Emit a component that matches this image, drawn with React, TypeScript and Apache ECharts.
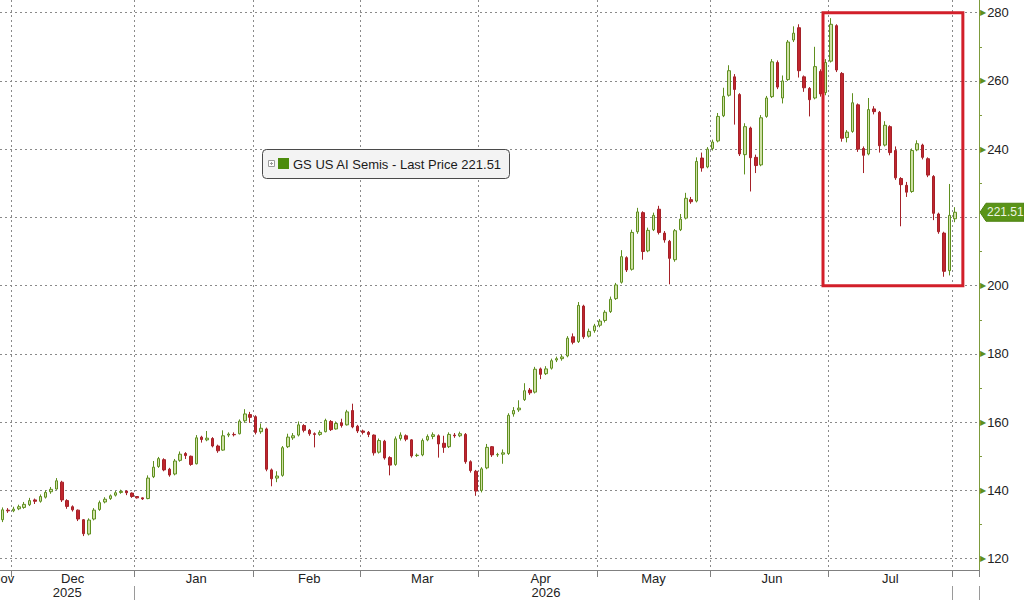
import React, { useEffect, useRef } from "react";
import * as echarts from "echarts";

// [open, close, low, high] per trading day (weekdays)
const novBars = [
  [131.4, 134.3, 130.7, 135.0], [134.2, 134.0, 133.4, 134.8],
];
const decBars = [
  [134.0, 134.5, 133.6, 135.2], [134.6, 135.2, 134.2, 135.8], [135.0, 135.9, 134.6, 136.6],
  [135.8, 137.0, 135.4, 137.8], [137.2, 136.8, 136.0, 137.6], [136.8, 138.2, 136.4, 138.8],
  [138.0, 139.4, 137.6, 140.0], [139.6, 140.3, 139.0, 141.0], [140.4, 142.8, 140.2, 143.6],
  [142.4, 137.2, 136.6, 142.8], [137.0, 135.3, 134.6, 137.4], [135.2, 134.3, 133.8, 135.6],
  [134.2, 131.6, 131.0, 134.4], [131.4, 127.3, 126.6, 131.6], [127.2, 131.3, 126.8, 131.8],
  [131.6, 134.2, 131.2, 134.8], [134.4, 136.4, 134.0, 137.0], [136.6, 137.4, 136.2, 138.0],
  [137.6, 138.4, 137.2, 138.8], [138.6, 139.3, 138.2, 139.8], [139.4, 139.7, 139.0, 140.2],
  [139.8, 139.3, 138.6, 140.0], [139.2, 138.2, 137.8, 139.4],
];
const janBars = [
  [138.2, 137.8, 137.6, 138.2], [137.8, 137.5, 137.2, 137.9], [137.6, 143.6, 137.4, 144.4],
  [144.0, 146.8, 143.6, 148.6], [147.0, 149.3, 146.6, 149.8], [149.0, 146.0, 145.6, 149.4],
  [146.2, 144.5, 144.0, 146.6], [144.8, 148.6, 144.4, 149.2], [148.8, 150.6, 148.4, 151.4],
  [150.8, 150.2, 149.2, 151.2], [150.0, 147.6, 147.2, 150.2], [147.8, 155.4, 147.6, 156.2],
  [155.6, 154.9, 154.0, 156.0], [154.8, 155.3, 154.4, 157.4], [155.2, 153.0, 152.6, 155.6],
  [153.0, 151.6, 151.0, 153.4], [151.8, 156.0, 151.6, 157.6], [156.2, 156.5, 155.6, 157.0],
  [156.4, 156.3, 155.8, 157.0], [156.6, 160.3, 156.4, 160.8], [160.4, 162.4, 159.8, 163.8],
  [162.2, 161.4, 159.8, 163.0],
];
const febBars = [
  [161.6, 157.0, 156.4, 162.0], [157.2, 158.2, 156.6, 159.6], [158.0, 146.2, 145.6, 158.4],
  [146.0, 143.4, 141.2, 146.4], [143.6, 144.2, 142.4, 145.6], [144.4, 152.5, 144.0, 153.0],
  [152.8, 155.6, 152.4, 156.6], [155.4, 156.0, 154.8, 156.8], [156.2, 159.2, 155.8, 160.2],
  [159.0, 157.6, 157.0, 159.4], [157.6, 156.6, 156.0, 158.0], [156.6, 156.4, 152.6, 157.0],
  [156.4, 157.0, 156.0, 157.6], [157.2, 160.5, 157.0, 161.0], [160.2, 157.8, 157.4, 160.6],
  [158.0, 159.6, 157.8, 160.2], [159.8, 159.0, 158.4, 161.0], [159.2, 163.0, 159.0, 163.6],
  [163.4, 158.6, 158.2, 165.4], [158.8, 157.4, 156.8, 159.2],
];
const marBars = [
  [157.4, 157.0, 156.4, 157.8], [157.0, 156.4, 155.6, 157.4], [156.2, 151.0, 150.2, 156.4],
  [151.2, 154.6, 150.8, 155.2], [154.4, 149.5, 149.0, 154.8], [149.6, 147.4, 144.4, 150.0],
  [147.6, 155.1, 147.2, 155.8], [155.2, 156.2, 154.6, 157.0], [156.0, 155.0, 154.4, 156.4],
  [154.8, 150.1, 149.6, 155.0], [150.2, 150.3, 149.8, 150.8], [150.4, 154.6, 150.0, 155.2],
  [154.8, 155.8, 154.4, 156.4], [155.8, 156.3, 155.0, 157.0], [156.0, 153.6, 149.6, 156.4],
  [153.8, 152.6, 151.0, 156.0], [152.8, 156.4, 152.4, 157.0], [156.2, 156.0, 155.4, 156.8],
  [156.0, 156.6, 155.6, 157.2], [156.4, 148.4, 147.8, 156.8], [148.4, 145.8, 145.2, 148.8],
  [145.6, 139.8, 138.4, 146.0],
];
const aprBars = [
  [140.0, 146.3, 139.4, 146.8], [146.6, 152.6, 146.2, 153.6], [152.8, 150.4, 149.8, 153.0],
  [150.4, 150.5, 149.8, 151.0], [150.6, 151.0, 147.8, 152.0], [150.8, 162.0, 150.4, 162.6],
  [162.4, 163.4, 161.6, 164.4], [163.6, 164.1, 163.0, 166.4], [166.6, 169.2, 166.2, 171.4],
  [169.4, 168.6, 168.0, 170.0], [168.8, 175.5, 168.4, 176.2], [175.6, 174.0, 172.6, 176.0],
  [174.2, 175.6, 173.8, 176.4], [175.8, 178.0, 175.4, 178.6], [178.2, 178.6, 177.6, 179.2],
  [178.6, 179.1, 178.0, 179.8], [179.4, 184.6, 179.0, 185.2], [185.0, 183.4, 182.8, 186.0],
  [183.6, 194.2, 183.2, 195.2], [194.0, 185.0, 184.4, 194.4], [185.2, 186.6, 184.8, 187.4],
  [186.8, 188.2, 186.2, 188.8],
];
const mayBars = [
  [188.4, 189.6, 187.8, 190.2], [189.8, 192.2, 189.2, 192.8], [192.4, 196.0, 192.0, 196.8],
  [196.2, 200.2, 195.8, 200.8], [201.0, 208.5, 200.6, 210.4], [208.2, 204.6, 204.0, 208.6],
  [204.8, 215.6, 204.4, 216.4], [215.8, 221.6, 215.2, 222.8], [221.4, 210.0, 207.6, 221.8],
  [210.2, 216.2, 209.8, 217.0], [216.4, 220.6, 216.0, 221.4], [222.4, 215.6, 215.0, 223.4],
  [215.4, 213.4, 212.6, 216.0], [213.0, 208.0, 200.4, 213.4], [207.6, 216.1, 207.0, 216.6],
  [216.4, 219.5, 216.0, 221.0], [219.8, 225.6, 219.4, 227.2], [225.2, 224.6, 224.0, 226.0],
  [224.8, 236.4, 224.4, 237.6], [237.4, 234.5, 233.4, 239.0], [234.8, 240.0, 234.4, 240.6],
];
const junBars = [
  [240.2, 242.1, 239.6, 242.8], [242.4, 249.6, 242.0, 250.6], [249.8, 255.5, 249.4, 258.0],
  [255.8, 263.0, 255.4, 264.6], [261.2, 257.5, 247.2, 262.0], [256.0, 238.6, 238.0, 256.4],
  [238.4, 246.6, 232.6, 247.6], [246.2, 237.5, 227.6, 246.6], [237.6, 235.2, 233.0, 238.4],
  [235.4, 249.2, 235.0, 250.0], [249.6, 255.0, 249.2, 255.6], [255.4, 265.6, 255.0, 266.4],
  [265.4, 258.2, 257.6, 266.0], [255.0, 260.0, 253.4, 261.6], [260.4, 271.4, 260.0, 272.0],
  [272.0, 274.0, 271.4, 276.0], [275.6, 263.0, 261.0, 276.6], [261.2, 258.0, 256.8, 261.6],
  [257.8, 254.5, 249.6, 258.2], [255.0, 264.2, 254.6, 270.0], [262.8, 256.2, 255.4, 263.4],
  [256.6, 265.4, 255.8, 266.4],
];
const julBars = [
  [265.8, 276.6, 265.4, 278.4], [276.2, 263.2, 262.6, 276.6], [262.2, 243.2, 242.2, 262.6],
  [243.4, 245.0, 242.0, 245.6], [245.2, 253.6, 244.8, 256.4], [253.0, 240.0, 239.2, 253.4],
  [240.2, 238.2, 233.0, 240.8], [238.6, 251.6, 238.2, 255.0], [251.8, 251.0, 250.2, 252.6],
  [250.8, 241.0, 239.0, 251.2], [241.2, 247.0, 240.8, 248.2], [246.6, 239.0, 238.2, 247.0],
  [239.6, 231.6, 231.0, 240.8], [231.4, 229.6, 217.4, 231.8], [229.4, 227.4, 226.0, 230.4],
  [227.6, 239.6, 227.2, 240.2], [239.8, 241.6, 239.4, 242.6], [241.2, 237.6, 237.0, 241.6],
  [237.2, 232.4, 231.8, 237.6], [232.0, 221.2, 219.2, 232.4], [221.0, 215.8, 215.2, 221.4],
  [215.4, 204.2, 202.6, 215.8], [204.4, 220.6, 203.0, 229.8],
];
const augBars = [[219.6, 221.51, 218.6, 223.0]];

const monthNames = ["Jan", "Feb", "Mar", "Apr", "May", "Jun", "Jul", "Aug", "Sep", "Oct", "Nov", "Dec"];
const labelledMonths = ["2025-11", "2025-12", "2026-01", "2026-02", "2026-03", "2026-04", "2026-05", "2026-06", "2026-07"];
const yearLabels = ["2025", "2026"];
const majorTicks = [120, 140, 160, 180, 200, 220, 240, 260, 280];
const minorTicks = [130, 150, 170, 190, 210, 230, 250, 270];
const seriesName = "GS US AI Semis";
const boxTop = 280;
const boxBottom = 200;
const boxStartDate = "2026-06-30";

const FONT = "'Liberation Sans', Arial, sans-serif";

function buildDates(): string[] {
  const out: string[] = [];
  const d = new Date(Date.UTC(2025, 10, 27));
  const end = Date.UTC(2026, 7, 7);
  while (d.getTime() <= end) {
    const wd = d.getUTCDay();
    if (wd !== 0 && wd !== 6) out.push(d.toISOString().slice(0, 10));
    d.setUTCDate(d.getUTCDate() + 1);
  }
  return out;
}

export default function App() {
  const ref = useRef<HTMLDivElement>(null);

  useEffect(() => {
    if (!ref.current) return;
    const chart = echarts.init(ref.current, undefined, { renderer: "svg" });

    const bars = [
      ...novBars, ...decBars, ...janBars, ...febBars, ...marBars,
      ...aprBars, ...mayBars, ...junBars, ...julBars, ...augBars,
    ];
    const dates = buildDates();
    const lastIdx = bars.length - 1;
    const lastPrice = bars[lastIdx][1];

    const monthStarts = new Set<number>();
    for (let i = 1; i < dates.length; i++) {
      if (dates[i].slice(0, 7) !== dates[i - 1].slice(0, 7)) monthStarts.add(i);
    }
    const monthLabelAt = new Map<number, string>();
    labelledMonths.forEach((m) => {
      const idx = dates.map((d, i) => (d.startsWith(m) ? i : -1)).filter((i) => i >= 0);
      const mid = idx.length < 5 ? idx[0] : Math.round((idx[0] + idx[idx.length - 1]) / 2);
      monthLabelAt.set(mid, monthNames[parseInt(m.slice(5, 7), 10) - 1]);
    });
    const yearLabelAt = new Map<number, string>();
    const yearTicks = new Set<number>();
    yearLabels.forEach((y) => {
      const idx = dates.map((d, i) => (d.startsWith(y) && i <= lastIdx ? i : -1)).filter((i) => i >= 0);
      yearLabelAt.set(Math.round((idx[0] + idx[idx.length - 1]) / 2), y);
      if (idx[0] > 0) yearTicks.add(idx[0]);
    });
    yearTicks.add(lastIdx);

    const labelTicks = majorTicks.filter((v) => Math.abs(v - lastPrice) > 3);

    const gridLine = { color: "#8a8a8a", type: [2, 3] as any, width: 1 };
    const yMin = 116.66;
    const yMax = 283.72;

    chart.setOption({
      animation: false,
      backgroundColor: "#ffffff",
      grid: {
        left: 0, right: 45, top: 0, bottom: 30,
        containLabel: false,
        outerBoundsMode: "none",
      },
      xAxis: [
        {
          type: "category",
          data: dates,
          boundaryGap: true,
          axisLine: { show: true, lineStyle: { color: "#808080", width: 1 } },
          axisTick: {
            show: true,
            interval: (i: number) => monthStarts.has(i),
            length: 7,
            lineStyle: { color: "#808080" },
          },
          axisLabel: {
            interval: (i: number) => monthLabelAt.has(i),
            formatter: (_v: string, i: number) => monthLabelAt.get(i) || "",
            color: "#222",
            fontSize: 13,
            lineHeight: 13,
            fontFamily: FONT,
            margin: 2,
          },
          splitLine: { show: true, interval: (i: number) => monthStarts.has(i), lineStyle: gridLine },
        },
        {
          type: "category",
          data: dates,
          position: "bottom",
          offset: 16,
          boundaryGap: true,
          axisLine: { show: false },
          axisTick: {
            show: true,
            interval: (i: number) => yearTicks.has(i),
            length: 14,
            lineStyle: { color: "#9a9a9a" },
          },
          axisLabel: {
            interval: (i: number) => yearLabelAt.has(i),
            formatter: (_v: string, i: number) => yearLabelAt.get(i) || "",
            color: "#222",
            fontSize: 13,
            lineHeight: 13,
            fontFamily: FONT,
            margin: 0,
          },
          splitLine: { show: false },
        },
      ],
      yAxis: [
        {
          type: "value",
          position: "right",
          min: yMin,
          max: yMax,
          axisLine: { show: true, lineStyle: { color: "#7d9b3c", width: 1 } },
          axisTick: { show: false, customValues: majorTicks },
          axisLabel: {
            customValues: labelTicks,
            margin: 1,
            formatter: (v: number) => `{a|▶}{b|${v}}`,
            rich: {
              a: { color: "#5e8f1e", fontSize: 8, fontFamily: "DejaVu Sans" },
              b: { color: "#222", fontSize: 13, fontFamily: FONT, padding: [0, 0, 0, 1] },
            },
          },
          splitLine: { show: true, lineStyle: gridLine },
        },
        {
          type: "value",
          position: "right",
          min: yMin,
          max: yMax,
          axisLine: { show: false },
          axisTick: { show: true, customValues: minorTicks, length: 3, lineStyle: { color: "#7d9b3c" } },
          axisLabel: { show: false },
          splitLine: { show: false },
        },
      ],
      series: [
        {
          name: seriesName,
          type: "candlestick",
          xAxisIndex: 0,
          yAxisIndex: 0,
          data: bars,
          barWidth: 3,
          itemStyle: {
            color: "#cfe0a6",
            color0: "#c0262e",
            borderColor: "#5f8f1f",
            borderColor0: "#a52128",
            borderWidth: 1,
          },
        },
      ],
    });

    const px = (i: number) => chart.convertToPixel({ xAxisIndex: 0 }, dates[i]) as number;
    const py = (v: number) => chart.convertToPixel({ yAxisIndex: 0 }, v) as number;

    const bs = dates.indexOf(boxStartDate);
    const boxLeft = (px(bs - 1) + px(bs)) / 2;
    const boxRight = (px(lastIdx + 1) + px(lastIdx + 2)) / 2;
    const yTop = py(boxTop);
    const yBot = py(boxBottom);
    const yLast = py(lastPrice);
    const axisX = px(dates.length - 1) + (px(1) - px(0)) / 2;

    chart.setOption({
      graphic: [
        {
          type: "rect",
          z: 100,
          shape: { x: boxLeft, y: yTop, width: boxRight - boxLeft, height: yBot - yTop },
          style: { fill: "none", stroke: "#d21f2a", lineWidth: 3 },
        },
        {
          type: "group",
          z: 100,
          children: [
            {
              type: "rect",
              shape: { x: 262.5, y: 149.5, width: 247, height: 29, r: 4 },
              style: { fill: "#f3f3f3", stroke: "#4a4a4a", lineWidth: 1 },
            },
            {
              type: "rect",
              shape: { x: 268.5, y: 160.5, width: 6, height: 6 },
              style: { fill: "#ffffff", stroke: "#9a9a9a", lineWidth: 1 },
            },
            { type: "line", shape: { x1: 270, y1: 163.5, x2: 273, y2: 163.5 }, style: { stroke: "#9a9a9a", lineWidth: 1 } },
            { type: "line", shape: { x1: 271.5, y1: 162, x2: 271.5, y2: 165 }, style: { stroke: "#9a9a9a", lineWidth: 1 } },
            {
              type: "rect",
              shape: { x: 278, y: 158, width: 11, height: 11 },
              style: { fill: "#4c8c0c" },
            },
            {
              type: "text",
              x: 293,
              y: 164,
              style: {
                text: `${seriesName} - Last Price ${lastPrice.toFixed(2)}`,
                fill: "#1a1a1a",
                font: `13px ${FONT}`,
                verticalAlign: "middle",
              },
            },
          ],
        },
        {
          type: "group",
          z: 110,
          children: [
            {
              type: "polygon",
              shape: {
                points: [
                  [axisX + 1, yLast],
                  [axisX + 7, yLast - 9],
                  [1024, yLast - 9],
                  [1024, yLast + 9],
                  [axisX + 7, yLast + 9],
                ],
              },
              style: { fill: "#5a9418", stroke: "#4d8212", lineWidth: 1 },
            },
            {
              type: "text",
              x: axisX + 8,
              y: yLast,
              style: {
                text: lastPrice.toFixed(2),
                fill: "#eef5e2",
                font: `12px ${FONT}`,
                verticalAlign: "middle",
              },
            },
          ],
        },
      ],
    });

    return () => chart.dispose();
  }, []);

  return (
    <div
      ref={ref}
      style={{ position: "fixed", left: 0, top: 0, width: 1024, height: 600, background: "#fff" }}
    />
  );
}
